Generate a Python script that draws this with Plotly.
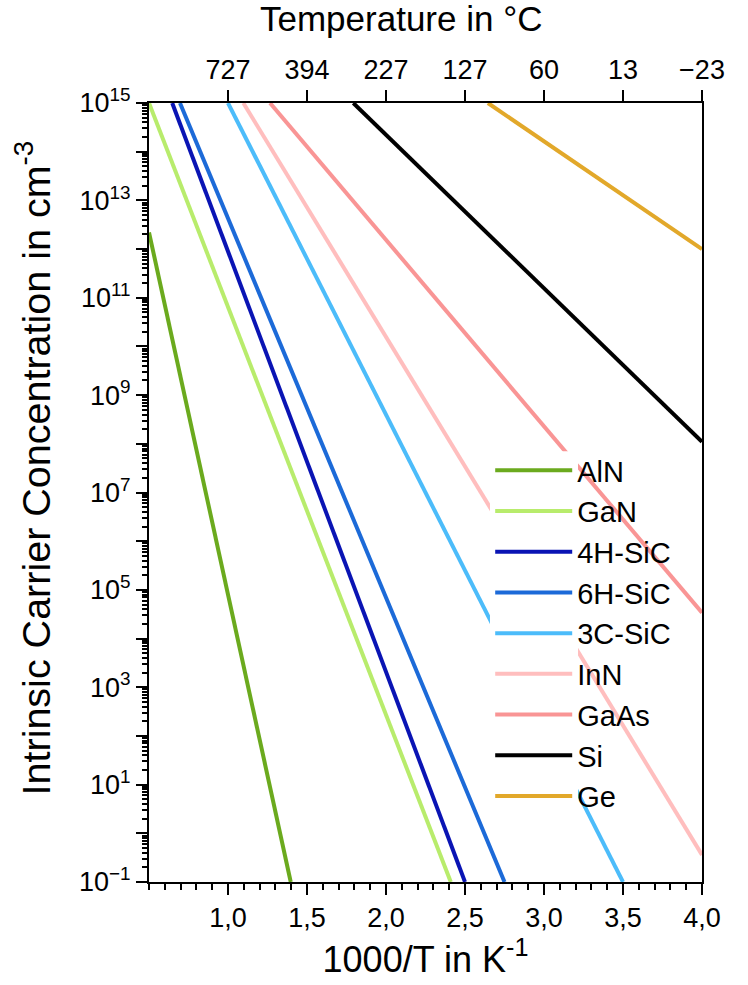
import plotly.graph_objects as go

# ---- data ----
materials = ["AlN", "GaN", "4H-SiC", "6H-SiC", "3C-SiC", "InN", "GaAs", "Si", "Ge"]
colors = ["#6BAA1E", "#B8EC6C", "#0A14B4", "#1C6AD8", "#4CBCFA",
          "#FFBEBE", "#F99595", "#000000", "#E2A82A"]
inv_t_start = [0.50, 0.50, 0.647, 0.696, 1.00, 1.097, 1.266, 1.793, 2.645]
n_start = [2.2e12, 1e15, 1e15, 1e15, 1e15, 1e15, 1e15, 1e15, 1e15]
inv_t_end = [1.397, 2.41, 2.50, 2.75, 3.50, 4.00, 4.00, 4.00, 4.00]
n_end = [1e-1, 1e-1, 1e-1, 1e-1, 1e-1, 0.36, 3.4e4, 1.1e8, 1.0e12]

x_ticks = [1.0, 1.5, 2.0, 2.5, 3.0, 3.5, 4.0]
x_ticktext = ["1,0", "1,5", "2,0", "2,5", "3,0", "3,5", "4,0"]
temp_ticktext = ["727", "394", "227", "127", "60", "13", "\u221223"]
y_exponents = list(range(-1, 16))

FONT = "Arial, Liberation Sans, sans-serif"

fig = go.Figure()
for name, c, xs, ys, xe, ye in zip(materials, colors, inv_t_start, n_start, inv_t_end, n_end):
    fig.add_trace(go.Scatter(x=[xs, xe], y=[ys, ye], mode="lines", name=name,
                             line=dict(color=c, width=4), xaxis="x", yaxis="y"))
# empty trace to activate the top axis
fig.add_trace(go.Scatter(x=[], y=[], xaxis="x2", yaxis="y", showlegend=False))

y_tickvals = [10.0 ** e for e in y_exponents]
y_ticktext = [("10<sup>%s</sup>" % (str(e).replace("-", "\u2212"))) if (e % 2 != 0) else ""
              for e in y_exponents]
y_minor = [m * 10.0 ** e for e in y_exponents[:-1] for m in range(2, 10)]

fig.update_layout(
    width=748, height=985,
    margin=dict(l=149, r=46, t=103, b=101),
    paper_bgcolor="white", plot_bgcolor="white",
    font=dict(family=FONT, color="black", size=27),
    showlegend=True,
    legend=dict(x=0.617, y=0.561, xanchor="left", yanchor="top",
                bgcolor="rgba(0,0,0,0)", borderwidth=0,
                font=dict(size=29, family=FONT), itemwidth=77,
                tracegroupgap=0),
    # white patch behind the legend's line samples (lines pass behind it)
    shapes=[dict(type="rect", xref="paper", yref="paper", layer="above",
                 x0=0.6166, x1=0.7758, y0=0.097, y1=0.553,
                 fillcolor="white", line=dict(width=0))],
    xaxis=dict(range=[0.5, 4.0], tickmode="array", tickvals=x_ticks, ticktext=x_ticktext,
               ticks="outside", ticklen=11, tickwidth=2, tickcolor="black",
               showline=True, linewidth=2, linecolor="black", mirror=False,
               showgrid=False, zeroline=False,
               minor=dict(tickmode="linear", tick0=0.5, dtick=0.1, ticks="outside",
                          ticklen=6, tickwidth=2, tickcolor="black", showgrid=False),
               tickfont=dict(size=27),
               title=dict(text="1000/T in K<sup>-1</sup>", font=dict(size=36), standoff=14)),
    xaxis2=dict(range=[0.5, 4.0], overlaying="x", side="top", anchor="y",
                tickmode="array", tickvals=x_ticks, ticktext=temp_ticktext,
                ticks="outside", ticklen=11, tickwidth=2, tickcolor="black",
                showline=True, linewidth=2, linecolor="black",
                showgrid=False, zeroline=False, tickfont=dict(size=27)),
    yaxis=dict(type="log", range=[-1, 15], tickmode="array", tickvals=y_tickvals,
               ticktext=y_ticktext, ticks="outside", ticklen=11, tickwidth=2,
               tickcolor="black", showline=True, linewidth=2, linecolor="black",
               mirror=True, showgrid=False, zeroline=False,
               minor=dict(tickmode="array", tickvals=y_minor, ticks="outside",
                          ticklen=5, tickwidth=1.5, tickcolor="black", showgrid=False),
               tickfont=dict(size=27)),
    annotations=[
        dict(text="Temperature in \u00b0C", xref="paper", yref="paper",
             x=0.4557, y=1.109, xanchor="center", yanchor="middle",
             showarrow=False, font=dict(size=35)),
        dict(text="Intrinsic Carrier Concentration in cm<sup>-3</sup>",
             xref="paper", yref="paper", x=-0.21, y=0.532, textangle=-90,
             xanchor="center", yanchor="middle", showarrow=False,
             font=dict(size=39.5)),
    ],
)

fig.write_html("out.html")
